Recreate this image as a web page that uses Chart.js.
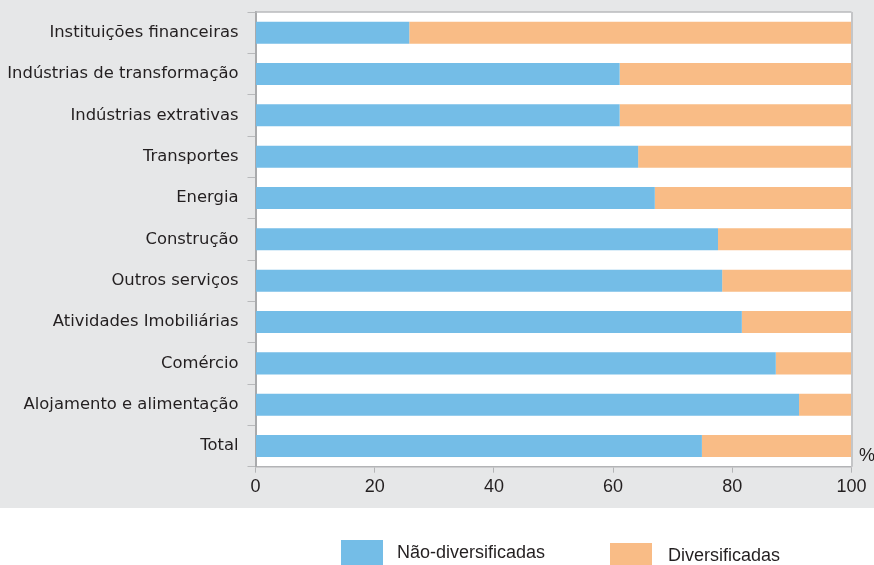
<!DOCTYPE html>
<html>
<head>
<meta charset="utf-8">
<script src="https://cdn.jsdelivr.net/npm/chart.js@4"></script>
<style>
  html, body { margin: 0; padding: 0; background: #ffffff; }
  #wrap { width: 874px; height: 565px; }
</style>
</head>
<body>
<div id="wrap"><canvas id="c" width="874" height="565"></canvas></div>
<script>
const categories = [
  'Instituições financeiras',
  'Indústrias de transformação',
  'Indústrias extrativas',
  'Transportes',
  'Energia',
  'Construção',
  'Outros serviços',
  'Atividades Imobiliárias',
  'Comércio',
  'Alojamento e alimentação',
  'Total'
];
const naoDiversificadas = [25.8, 61.1, 61.1, 64.2, 67.0, 77.6, 78.3, 81.6, 87.3, 91.2, 74.9];
const diversificadas    = [74.2, 38.9, 38.9, 35.8, 33.0, 22.4, 21.7, 18.4, 12.7, 8.8, 25.1];
const xTicks = [0, 20, 40, 60, 80, 100];
const seriesNames = ['Não-diversificadas', 'Diversificadas'];
const unitLabel = '%';

const BLUE = '#74bde7';
const ORANGE = '#f9bc86';
const BG = '#e6e7e8';
const TEXT = '#231f20';

const decor = {
  id: 'decor',
  beforeDraw(chart) {
    const ctx = chart.ctx;
    const a = chart.chartArea;
    ctx.save();
    ctx.fillStyle = '#ffffff';
    ctx.fillRect(0, 0, chart.width, chart.height);
    ctx.fillStyle = BG;
    ctx.fillRect(0, 0, chart.width, 508);
    ctx.fillStyle = '#ffffff';
    ctx.fillRect(a.left, a.top, a.right - a.left, a.bottom - a.top);
    ctx.restore();
  },
  afterDraw(chart) {
    const ctx = chart.ctx;
    const a = chart.chartArea;
    ctx.save();
    ctx.strokeStyle = '#b9babc';
    ctx.lineWidth = 1.5;
    ctx.beginPath();
    ctx.moveTo(a.left, a.top);
    ctx.lineTo(a.right, a.top);
    ctx.stroke();
    ctx.strokeStyle = '#c4c5c7';
    ctx.lineWidth = 2;
    ctx.beginPath();
    ctx.moveTo(a.right + 0.5, a.top);
    ctx.lineTo(a.right + 0.5, a.bottom);
    ctx.stroke();
    ctx.fillStyle = TEXT;
    ctx.font = '18px "Liberation Sans", Arial, sans-serif';
    ctx.textAlign = 'left';
    ctx.textBaseline = 'middle';
    ctx.fillText(unitLabel, 859, 456);
    const ds = chart.data.datasets;
    const items = [
      { box: [341, 540], text: [397, 553] },
      { box: [610, 543], text: [668, 556.5] }
    ];
    ds.forEach((d, i) => {
      const it = items[i];
      ctx.fillStyle = d.backgroundColor;
      ctx.fillRect(it.box[0], it.box[1], 42, 30);
      ctx.fillStyle = TEXT;
      ctx.font = '18px "Liberation Sans", Arial, sans-serif';
      ctx.fillText(d.label, it.text[0], it.text[1]);
    });
    ctx.restore();
  }
};

new Chart(document.getElementById('c'), {
  type: 'bar',
  data: {
    labels: categories,
    datasets: [
      { label: seriesNames[0], data: naoDiversificadas, backgroundColor: BLUE, borderWidth: 0,
        barPercentage: 0.533, categoryPercentage: 1.0 },
      { label: seriesNames[1], data: diversificadas, backgroundColor: ORANGE, borderWidth: 0,
        barPercentage: 0.533, categoryPercentage: 1.0 }
    ]
  },
  options: {
    indexAxis: 'y',
    responsive: false,
    animation: false,
    devicePixelRatio: 1,
    layout: { padding: { top: 12, right: 22.5, left: 0, bottom: 0 } },
    plugins: {
      legend: { display: false },
      tooltip: { enabled: false },
      title: { display: false }
    },
    scales: {
      x: {
        stacked: true,
        min: 0,
        max: 100,
        afterBuildTicks(scale) { scale.ticks = xTicks.map(v => ({ value: v })); },
        afterFit(scale) { scale.height = 98.3; scale.paddingLeft = 0; scale.paddingRight = 0; },
        grid: { display: true, drawOnChartArea: false, drawTicks: true, tickLength: 6, color: '#b3b4b6', lineWidth: 1 },
        border: { display: true, color: '#b3b4b6', width: 1.5 },
        ticks: {
          color: TEXT,
          padding: 4,
          font: { family: '"Liberation Sans", Arial, sans-serif', size: 18 },
          maxRotation: 0
        }
      },
      y: {
        stacked: true,
        offset: true,
        afterFit(scale) { scale.width = 255.5; scale.paddingTop = 0; scale.paddingBottom = 0; },
        grid: { display: true, offset: true, drawOnChartArea: false, drawTicks: true, tickLength: 8, color: '#b9babc', lineWidth: 1 },
        border: { display: true, color: '#a9aaac', width: 2 },
        ticks: {
          color: TEXT,
          padding: 9,
          labelOffset: 0,
          autoSkip: false,
          font: { family: '"DejaVu Sans", sans-serif', size: 16.4 }
        }
      }
    }
  },
  plugins: [decor]
});
</script>
</body>
</html>
